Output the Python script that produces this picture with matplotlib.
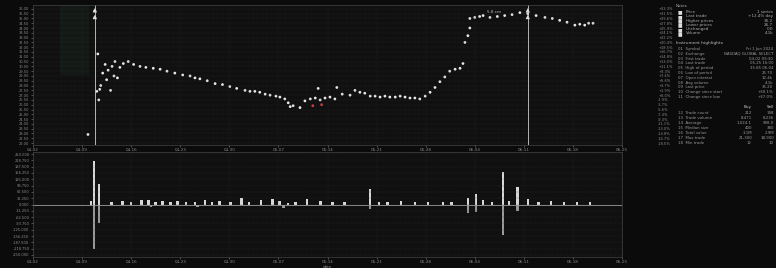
import matplotlib
matplotlib.use('Agg')
import matplotlib.pyplot as plt
import numpy as np

# price scatter (x = time step, y = price)
px = [11.2, 12.6, 12.6, 13.0, 13.2, 13.4, 13.6, 13.8, 14.2, 14.7, 15.0, 15.3, 15.8, 16.1, 16.5, 16.7,
      17.2, 17.7, 18.4, 19.4, 20.5, 21.8, 23.0, 24.5, 25.9, 27.3, 28.9, 30.5, 32.0, 33.0, 34.0, 35.5,
      37.1, 38.6, 40.1, 41.5, 43.2, 44.2, 45.2, 46.2, 47.3, 48.3, 49.5, 50.3, 51.3, 52.0, 52.4, 53.0,
      54.4, 55.4, 56.5, 57.5, 58.1, 58.5, 59.5, 60.5, 61.5, 61.9, 63.0, 64.6, 65.6, 66.6, 67.6, 68.7,
      69.7, 70.7, 71.7, 72.7, 73.8, 74.8, 75.8, 76.8, 77.8, 78.8, 79.9, 80.9, 81.9, 82.9, 83.9, 84.9,
      86.0, 87.0, 87.6, 88.0, 88.6, 89.0, 89.0, 90.0, 91.0, 91.7, 93.1, 94.6, 96.1, 97.6, 99.2, 100.8,
      102.5, 104.3, 105.8, 107.3, 108.8, 110.4, 111.4, 112.4, 113.2, 114.1]
py = [22.9, 35.8, 35.1, 27.4, 31.3, 26.5, 27.6, 28.0, 29.3, 30.2, 28.6, 29.6, 27.5, 30.0, 29.0, 30.5,
      28.8, 29.9, 30.3, 30.5, 30.2, 30.0, 29.9, 29.8, 29.7, 29.5, 29.3, 29.1, 29.0, 28.8, 28.7, 28.5,
      28.2, 28.1, 27.9, 27.7, 27.5, 27.4, 27.4, 27.3, 27.1, 27.0, 26.9, 26.8, 26.6, 26.2, 25.8, 25.9,
      25.7, 26.4, 26.6, 26.7, 27.7, 26.5, 26.7, 26.8, 26.6, 27.8, 27.1, 27.0, 27.5, 27.3, 27.2, 26.9,
      26.9, 26.8, 26.9, 26.8, 26.8, 26.9, 26.8, 26.7, 26.7, 26.6, 26.9, 27.3, 27.8, 28.4, 28.9, 29.5,
      29.7, 29.8, 30.3, 32.5, 33.2, 34.0, 35.0, 35.1, 35.2, 35.3, 35.1, 35.2, 35.3, 35.4, 35.6, 35.5,
      35.3, 35.1, 35.0, 34.8, 34.6, 34.3, 34.4, 34.3, 34.5, 34.5]
red_x = [57.0, 58.8]
red_y = [25.9, 26.0]
marker_x = [12.6, 100.8]

# volume / flow bars
bx = [11.8, 12.4, 13.4, 16.0, 18.2, 20.0, 22.1, 23.5, 25.0, 26.4, 28.0, 29.4, 31.2, 33.0, 35.0, 36.5,
      38.0, 40.2, 42.5, 44.0, 46.5, 48.8, 50.2, 52.0, 53.5, 55.8, 58.6, 61.0, 63.5, 68.7, 70.5, 72.2,
      75.0, 77.8, 80.5, 83.5, 85.3, 88.6, 90.2, 91.7, 93.5, 95.8, 97.0, 98.7, 100.8, 103.0, 105.5, 108.2,
      110.8, 113.5]
bh = [15, 213, 104, 12, 18, 10, 22, 20, 14, 18, 12, 16, 10, 14, 20, 12,
      18, 10, 30, 12, 20, 28, 16, 8, 14, 25, 18, 12, 10, 79, 14, 10,
      18, 12, 10, 14, 10, 30, 54, 22, 10, 163, 18, 89, 26, 12, 16, 10,
      14, 10]
nx = [12.4, 13.4, 24.0, 33.5, 51.0, 68.7, 88.6, 90.2, 95.8, 98.7]
nh = [-218, -90, -10, -12, -16, -20, -40, -35, -153, -30]

tick_labels = ['04-02', '04-09', '04-16', '04-23', '04-30', '05-07', '05-14', '05-21', '05-28',
               '06-04', '06-11', '06-18', '06-25']

bg = '#0b0b0b'
fg = '#8a8a8a'
fig = plt.figure(figsize=(7.76, 2.68), dpi=100, facecolor=bg)
W, H = 776, 268

ax1 = fig.add_axes([33 / W, 1 - 145 / H, 589 / W, 140 / H], facecolor='#101010')
ax2 = fig.add_axes([33 / W, 1 - 257 / H, 589 / W, 105 / H], facecolor='#101010')

for ax in (ax1, ax2):
    ax.set_xlim(0, 120)
    ax.set_xticks(np.arange(0, 121, 10))
    ax.set_xticklabels(tick_labels, fontsize=3, color=fg)
    ax.tick_params(colors=fg, length=1.5, width=0.4, pad=1)
    ax.grid(True, color='#333333', lw=0.35, ls=':')
    for s in ax.spines.values():
        s.set_color('#444444')
        s.set_linewidth(0.5)

ax1.set_ylim(21.8, 36.4)
yt = np.arange(22.0, 36.5, 0.5)
ax1.set_yticks(yt)
ax1.set_yticklabels([f'{v:.2f}' for v in yt], fontsize=2.6, color=fg)
ax1.scatter(px, py, s=4, c='#e8e8e8', edgecolors='none')
ax1.scatter(red_x, red_y, s=4, c='#d04040', edgecolors='none')
for mx in marker_x:
    ax1.axvline(mx, color='#cfcfcf', lw=0.6, ls='-')
    ax1.scatter([mx, mx], [35.85, 35.15], marker='^', s=10, c='#dddddd', edgecolors='none', zorder=3)
ax1.axvspan(5.5, 11.5, ymin=0.5, ymax=1, color='#1d3a25', alpha=0.25, lw=0)
ax1.text(92.5, 35.6, '5.8 cm', fontsize=3, color='#bbbbbb')
ax1.set_xlabel('date', fontsize=3, color=fg, labelpad=0.5)

# right hand percent axis
axr = ax1.twinx()
axr.set_ylim(ax1.get_ylim())
axr.set_yticks(yt)
pct = [(v - 27.0) / 27.0 * 100 for v in yt]
axr.set_yticklabels([f'{p:+.1f}%' for p in pct], fontsize=2.6, color=fg)
axr.tick_params(length=0, pad=26)
for s in axr.spines.values():
    s.set_visible(False)

ax2.set_ylim(-260, 260)
yt2 = np.arange(-250, 251, 31.25)
ax2.set_yticks(yt2)
ax2.set_yticklabels([f'{v:.3f}' for v in yt2], fontsize=2.6, color=fg)
ax2.axhline(0, color='#9a9a9a', lw=0.6)
ax2.bar(bx, bh, width=0.5, color='#d8d8d8', lw=0)
ax2.bar(nx, nh, width=0.5, color='#9a9a9a', lw=0)
ax2.set_xlabel('date', fontsize=3, color=fg, labelpad=0.5)

# side panel
tx = 678 / W
fig.text(676 / W, 1 - 6 / H, 'Notes', fontsize=3, color='#aaaaaa', va='center')
legend_items = ['Price', 'Last trade', 'Higher prices', 'Lower prices', 'Unchanged', 'Volume']
legend_vals = ['1 series', '+12.4% day', '35.2', '26.7', '0.0', '4.1k']
for i, (lab, val) in enumerate(zip(legend_items, legend_vals)):
    y = 1 - (12 + i * 4.3) / H
    fig.text(tx, y, '\u25a0', fontsize=3.5, color='#dddddd', va='center')
    fig.text(tx + 8 / W, y, lab, fontsize=3, color='#aaaaaa', va='center')
    fig.text(773 / W, y, val, fontsize=3, color='#aaaaaa', va='center', ha='right')

fig.text(676 / W, 1 - 43 / H, 'Instrument highlights', fontsize=3.2, color='#bbbbbb', va='center')
rows1 = ['Symbol', 'Exchange', 'First trade', 'Last trade', 'High of period', 'Low of period',
         'Open interest', 'Avg volume', 'Last price', 'Change since start', 'Change since low']
vals1 = ['Fri 1 Jun 2024', 'NASDAQ GLOBAL SELECT', '04-02 09:30', '06-25 16:00', '35.85 06-04',
         '25.70', '12.4k', '4.1k', '35.20', '+30.1%', '+37.0%']
for i, (lab, val) in enumerate(zip(rows1, vals1)):
    y = 1 - (49 + i * 4.8) / H
    fig.text(tx, y, f'{i + 1:02d}  {lab}', fontsize=2.8, color='#999999', va='center')
    fig.text(773 / W, y, val, fontsize=2.8, color='#999999', va='center', ha='right')

fig.text(752 / W, 1 - 107 / H, 'Buy', fontsize=3, color='#cccccc', va='center', ha='right')
fig.text(774 / W, 1 - 107 / H, 'Sell', fontsize=3, color='#cccccc', va='center', ha='right')
rows2 = ['Trade count', 'Trade volume', 'Average', 'Median size', 'Total value', 'Max trade', 'Min trade']
vals2 = [('212', '198'), ('8,471', '8,236'), ('1,024.1', '998.0'), ('400', '380'),
         ('3.1M', '2.9M'), ('21,300', '18,900'), ('12', '10')]
for i, (lab, (b, s)) in enumerate(zip(rows2, vals2)):
    y = 1 - (113 + i * 5.0) / H
    fig.text(tx, y, f'{i + 12:02d}  {lab}', fontsize=2.8, color='#999999', va='center')
    fig.text(752 / W, y, b, fontsize=2.8, color='#999999', va='center', ha='right')
    fig.text(774 / W, y, s, fontsize=2.8, color='#999999', va='center', ha='right')

fig.savefig('out.png', dpi=100, facecolor=bg)
